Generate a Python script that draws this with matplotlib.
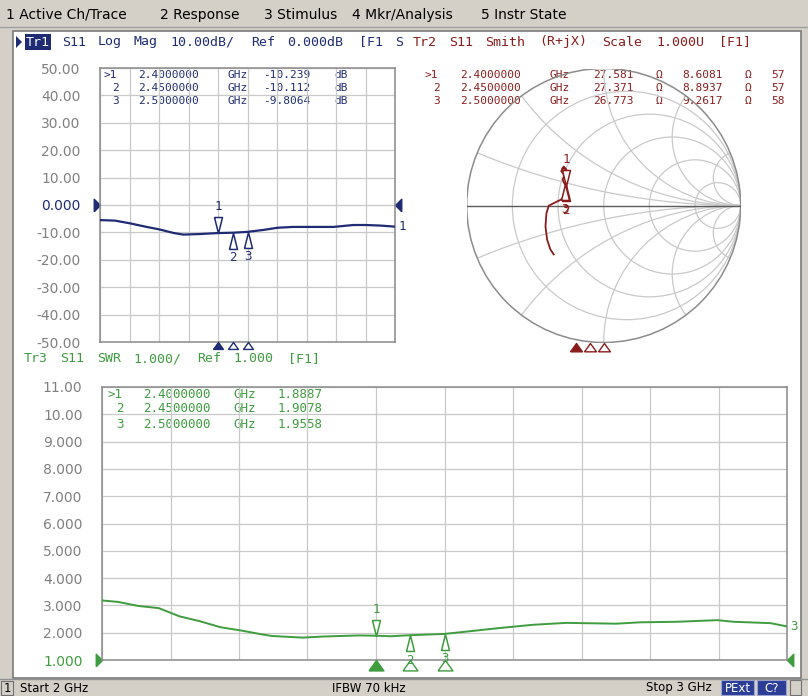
import re
import matplotlib
matplotlib.use("Agg")
import matplotlib.pyplot as plt
import numpy as np
from matplotlib.patches import Rectangle, Circle, Polygon

# ---------------- data ----------------
start_ghz, stop_ghz = 2.0, 3.0
marker_ids = ["1", "2", "3"]
marker_freq_ghz = [2.40, 2.45, 2.50]
marker_logmag_db = [-10.239, -10.112, -9.8064]
marker_swr = [1.8887, 1.9078, 1.9558]
marker_r_ohm = [27.581, 27.371, 26.773]
marker_x_ohm = [8.6081, 8.8937, 9.2617]
marker_l_visible = ["57", "57", "58"]   # column cut off at the window edge in the reference

logmag_freq_ghz = [2.000, 2.051, 2.102, 2.158, 2.201, 2.249, 2.282, 2.339, 2.400, 2.450,
                   2.500, 2.554, 2.602, 2.655, 2.791, 2.859, 2.900, 2.949, 3.000]
logmag_db = [-5.5, -5.7, -6.7, -8.0, -8.9, -10.2, -10.8, -10.6, -10.239, -10.112,
             -9.8064, -9.1, -8.3, -8.0, -8.0, -7.3, -7.3, -7.5, -7.9]

swr_freq_ghz = [2.000, 2.023, 2.053, 2.083, 2.113, 2.143, 2.173, 2.203, 2.233, 2.248,
                2.293, 2.323, 2.376, 2.400, 2.421, 2.450, 2.500, 2.532, 2.576, 2.629,
                2.678, 2.751, 2.785, 2.839, 2.898, 2.922, 2.976, 3.000]
swr_values = [3.18, 3.13, 2.98, 2.90, 2.60, 2.42, 2.20, 2.08, 1.94, 1.88,
              1.82, 1.86, 1.90, 1.8887, 1.87, 1.9078, 1.9558, 2.04, 2.16, 2.29,
              2.36, 2.33, 2.38, 2.40, 2.46, 2.40, 2.35, 2.23]

smith_re = [-0.365, -0.389, -0.413, -0.425, -0.418, -0.401, -0.365, -0.316, -0.287, -0.268,
            -0.273, -0.276, -0.284, -0.300, -0.282, -0.310, -0.292, -0.272, -0.300]
smith_im = [-0.357, -0.321, -0.249, -0.152, -0.056, -0.002, 0.017, 0.041, 0.060, 0.077,
            0.141, 0.147, 0.155, 0.190, 0.220, 0.250, 0.285, 0.262, 0.272]

logmag_ticks = [50, 40, 30, 20, 10, 0, -10, -20, -30, -40, -50]
swr_ticks = [11, 10, 9, 8, 7, 6, 5, 4, 3, 2, 1]
smith_r_circles = [0.2, 0.5, 1, 2, 5]
smith_x_arcs = [0.2, 0.5, 1, 2, 5]

menu_items = ["1 Active Ch/Trace", "2 Response", "3 Stimulus", "4 Mkr/Analysis", "5 Instr State"]
tr1_header = "Tr1 S11 Log Mag 10.00dB/ Ref 0.000dB [F1 S"
tr2_header = "Tr2 S11 Smith (R+jX) Scale 1.000U [F1]"
tr3_header = "Tr3 S11 SWR 1.000/ Ref 1.000 [F1]"

# ---------------- style ----------------
W, H = 808, 696
GRAYBG = "#d4d0c8"
NAVY = "#1f2c73"
DRED = "#8a1c1c"
GREEN = "#3f9c3f"
GRID = "#c9c9c9"
FRAME = "#8a8a8a"
TICKC = "#808080"
MONO = "DejaVu Sans Mono"
SANS = "DejaVu Sans"

fig = plt.figure(figsize=(W / 100, H / 100), dpi=100, facecolor=GRAYBG)
bg = fig.add_axes([0, 0, 1, 1])
bg.set_xlim(0, W)
bg.set_ylim(H, 0)
bg.axis("off")

# window
bg.add_patch(Rectangle((13, 31), 788, 647, facecolor="white", edgecolor="#7a7a7a", lw=1.2))
bg.plot([0, W], [27, 27], color="#a0a0a0", lw=1)

# menu bar
menu_x = [6, 160, 264, 352, 481]
for x, s in zip(menu_x, menu_items):
    bg.text(x, 15, s, family=SANS, size=10, color="black", va="center", ha="left")

# status bar
bg.add_patch(Rectangle((0, 679), W, 17, facecolor=GRAYBG, edgecolor="none"))
bg.plot([0, W], [679, 679], color="#909090", lw=1)
bg.add_patch(Rectangle((1, 681), 12, 14, facecolor=GRAYBG, edgecolor="#707070", lw=0.8))
bg.text(7, 688, "1", family=SANS, size=8.5, ha="center", va="center")
bg.text(20, 688, "Start 2 GHz", family=SANS, size=8.5, ha="left", va="center")
bg.text(369, 688, "IFBW 70 kHz", family=SANS, size=8.5, ha="center", va="center")
bg.text(712, 688, "Stop 3 GHz", family=SANS, size=8.5, ha="right", va="center")
bg.add_patch(Rectangle((721, 680), 33, 15, facecolor="#2c3d96", edgecolor="#9aa4d0", lw=0.8))
bg.text(737.5, 688, "PExt", family=SANS, size=8.5, color="white", ha="center", va="center")
bg.add_patch(Rectangle((757, 680), 29, 15, facecolor="#2c3d96", edgecolor="#9aa4d0", lw=0.8))
bg.text(771.5, 688, "C?", family=SANS, size=8.5, color="white", ha="center", va="center")
bg.add_patch(Rectangle((790, 680), 11, 15, facecolor=GRAYBG, edgecolor="#707070", lw=0.8))


def mono_line(x0, y, s, pitch, color, size=9):
    for m in re.finditer(r"\S+", s):
        bg.text(x0 + m.start() * pitch, y, m.group(), family=MONO, size=size,
                color=color, va="center", ha="left")


# header lines
bg.add_patch(Polygon([[16, 36], [16, 48], [22, 42]], closed=True, facecolor=NAVY, edgecolor="none"))
bg.text(26, 42, "Tr1", family=MONO, size=9.5, color="white", va="center", ha="left",
        bbox=dict(facecolor=NAVY, edgecolor="none", pad=1.0))
mono_line(26 + 4 * 9.0, 42, tr1_header[4:], 9.0, NAVY, size=9.5)
mono_line(26 + 43 * 9.0, 42, tr2_header, 9.0, DRED, size=9.5)
mono_line(24, 359, tr3_header, 9.1, GREEN, size=9.5)


def fmt_tick(v):
    return f"{v:.2f}" if abs(v) >= 10 else f"{v:.3f}"


def px_axes(x0, y0, x1, y1):
    return fig.add_axes([x0 / W, 1 - y1 / H, (x1 - x0) / W, (y1 - y0) / H])


def style_rect_axes(ax, ticks, ref_label, ref_color):
    ax.set_facecolor("none")
    ax.set_xlim(start_ghz, stop_ghz)
    ax.set_xticks(np.linspace(start_ghz, stop_ghz, 11))
    ax.set_yticks(ticks, labels=[fmt_tick(t) for t in ticks])
    ax.grid(True, color=GRID, lw=0.9)
    ax.tick_params(length=0, labelbottom=False, labelsize=10, labelcolor=TICKC, pad=14)
    for lab in ax.get_yticklabels():
        lab.set_family(SANS)
        if lab.get_text() == ref_label:
            lab.set_color(ref_color)
    for sp in ax.spines.values():
        sp.set_color(FRAME)
        sp.set_linewidth(1.1)


# marker shapes (tip at origin)
DOWN_TRI = [(-0.25, 1.0), (0.25, 1.0), (0.0, 0.0), (-0.25, 1.0)]
UP_TRI = [(-0.25, -1.0), (0.25, -1.0), (0.0, 0.0), (-0.25, -1.0)]
IND_TRI = [(-0.5, -0.7), (0.5, -0.7), (0.0, 0.0), (-0.5, -0.7)]
REF_R = [(-1.0, -1.0), (-1.0, 1.0), (0.0, 0.0), (-1.0, -1.0)]
REF_L = [(1.0, -1.0), (1.0, 1.0), (0.0, 0.0), (1.0, -1.0)]


def draw_markers(ax, xs, ys, color):
    for i, (mid, x, y) in enumerate(zip(marker_ids, xs, ys)):
        if i == 0:
            ax.plot([x], [y], marker=DOWN_TRI, ms=23, mfc="white", mec=color, mew=1.1,
                    ls="none", clip_on=False, zorder=5)
            ax.annotate(mid, (x, y), xytext=(0, 19), textcoords="offset points", ha="center",
                        va="center", color=color, family=MONO, size=9, zorder=6)
        else:
            ax.plot([x], [y], marker=UP_TRI, ms=23, mfc="white", mec=color, mew=1.1,
                    ls="none", clip_on=False, zorder=5)
            ax.annotate(mid, (x, y), xytext=(0, -18), textcoords="offset points", ha="center",
                        va="center", color=color, family=MONO, size=9, zorder=6)


def draw_indicators(ax, xs, color, ms):
    tr = ax.get_xaxis_transform()
    for i, x in enumerate(xs):
        ax.plot([x], [0], transform=tr, marker=IND_TRI, ms=ms, mfc=color if i == 0 else "white",
                mec=color, mew=1.0, ls="none", clip_on=False, zorder=5)


def draw_ref(ax, yval, color):
    tr = ax.get_yaxis_transform()
    ax.plot([0], [yval], transform=tr, marker=REF_R, ms=9, color=color, ls="none", clip_on=False)
    ax.plot([1], [yval], transform=tr, marker=REF_L, ms=9, color=color, ls="none", clip_on=False)


# ---------------- Tr1 : log mag ----------------
ax1 = px_axes(100, 68, 395, 342)
ax1.set_ylim(-50, 50)
style_rect_axes(ax1, logmag_ticks, "0.000", NAVY)
ax1.plot(logmag_freq_ghz, logmag_db, color=NAVY, lw=1.6, zorder=4)
draw_markers(ax1, marker_freq_ghz, marker_logmag_db, NAVY)
draw_indicators(ax1, marker_freq_ghz, NAVY, 10)
draw_ref(ax1, 0, NAVY)
ax1.annotate("1", (stop_ghz, logmag_db[-1]), xytext=(5, 0), textcoords="offset points",
             ha="center", va="center", color=NAVY, family=MONO, size=9, annotation_clip=False)
for i, mid in enumerate(marker_ids):
    mono_line(103, 75 + 12.8 * i,
              f"{'>' if i == 0 else ' '}{mid}  {marker_freq_ghz[i]:.7f} GHz {marker_logmag_db[i]:.5g} dB",
              8.9, NAVY, size=8)

# ---------------- Tr2 : Smith ----------------
ax2 = px_axes(466.7, 68.5, 740.7, 342.5)
ax2.set_xlim(-1, 1)
ax2.set_ylim(-1, 1)
ax2.axis("off")
outer = Circle((0, 0), 1, fill=False, ec="#8c8c8c", lw=1.1, zorder=3)
ax2.add_patch(outer)
for r in smith_r_circles:
    ax2.add_patch(Circle((r / (1 + r), 0), 1 / (1 + r), fill=False, ec=GRID, lw=0.9, zorder=2))
for xv in smith_x_arcs:
    for s in (1, -1):
        c = Circle((1, s / xv), 1 / xv, fill=False, ec=GRID, lw=0.9, zorder=2)
        ax2.add_patch(c)
        c.set_clip_path(outer)
ax2.plot([-1, 1], [0, 0], color="#5a5a5a", lw=1.0, zorder=3)
ax2.plot(smith_re, smith_im, color=DRED, lw=1.3, zorder=4)
z = (np.array(marker_r_ohm) + 1j * np.array(marker_x_ohm)) / 50.0
gam = (z - 1) / (z + 1)
draw_markers(ax2, gam.real, gam.imag, DRED)
smith_ind_x = [-1 + 2 * (f - start_ghz) / (stop_ghz - start_ghz) for f in marker_freq_ghz]
for i, x in enumerate(smith_ind_x):
    ax2.plot([x], [-1], marker=IND_TRI, ms=12, mfc=DRED if i == 0 else "white", mec=DRED,
             mew=1.0, ls="none", clip_on=False, zorder=5)
for i, mid in enumerate(marker_ids):
    mono_line(424.4, 75 + 12.8 * i,
              f"{'>' if i == 0 else ' '}{mid}  {marker_freq_ghz[i]:.7f} GHz  {marker_r_ohm[i]:.5g} \u03a9"
              f"  {marker_x_ohm[i]:.5g} \u03a9  {marker_l_visible[i]}",
              8.9, DRED, size=8)

# ---------------- Tr3 : SWR ----------------
ax3 = px_axes(102, 387, 787, 660)
ax3.set_ylim(1, 11)
style_rect_axes(ax3, swr_ticks, "1.000", GREEN)
ax3.plot(swr_freq_ghz, swr_values, color=GREEN, lw=1.4, zorder=4)
draw_markers(ax3, marker_freq_ghz, marker_swr, GREEN)
draw_indicators(ax3, marker_freq_ghz, GREEN, 15)
draw_ref(ax3, 1, GREEN)
ax3.annotate("3", (stop_ghz, swr_values[-1]), xytext=(5, 0), textcoords="offset points",
             ha="center", va="center", color=GREEN, family=MONO, size=9, annotation_clip=False)
for i, mid in enumerate(marker_ids):
    mono_line(107, 394 + 15 * i,
              f"{'>' if i == 0 else ' '}{mid}  {marker_freq_ghz[i]:.7f} GHz  {marker_swr[i]:.5g}",
              9.0, GREEN, size=9)

fig.savefig("out.png", dpi=100, facecolor=fig.get_facecolor())
